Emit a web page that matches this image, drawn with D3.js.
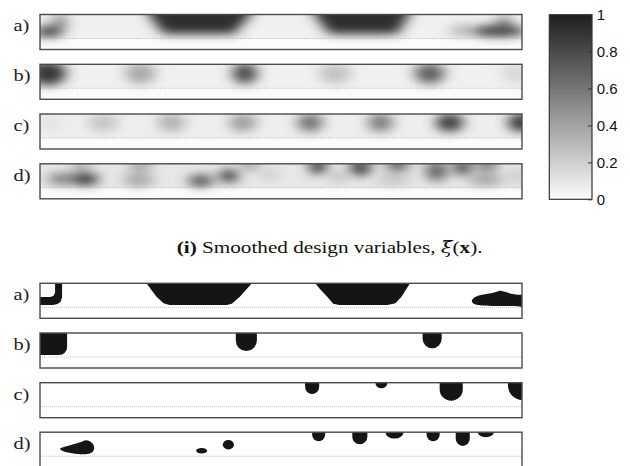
<!DOCTYPE html>
<html><head><meta charset="utf-8">
<script src="https://cdn.jsdelivr.net/npm/d3@7"></script>
<style>body{margin:0;background:#fff}svg{display:block}</style>
</head><body>
<script>
// ---------------- DATA ----------------
const panelLabels = ["a)", "b)", "c)", "d)"];
const colorbarTicks = [0, 0.2, 0.4, 0.6, 0.8, 1];
const colorbarTickLabels = ["0", "0.2", "0.4", "0.6", "0.8", "1"];
const topBackground = [0.05, 0.05, 0.06, 0.09];   // design-region value per panel

// Smoothed design variables: blobs [cx, cy, rx, ry, value] in element units (48 x 3.5)
const smoothA = [
  [0.9, 1.7, 1.4, 0.55, 0.88], [2.0, 0.8, 0.7, 0.9, 0.52],
  [42.0, 1.6, 1.2, 0.55, 0.33], [45.6, 1.65, 2.8, 0.55, 0.9], [46.2, 0.75, 0.8, 0.55, 0.58]
];
const smoothAPolys = [
  [0.93, [[10.8,-1],[21.0,-1],[21.0,0],[19.3,1.95],[12.3,1.95],[10.8,0]]],
  [0.93, [[27.3,-1],[36.8,-1],[36.8,0],[35.6,1.95],[28.8,1.95],[27.3,0]]]
];
const smoothB = [
  [0.8, 0.9, 1.8, 1.2, 0.9], [10.0, 0.9, 1.5, 1.05, 0.38], [20.4, 0.9, 1.25, 1.05, 0.8],
  [29.4, 0.9, 1.6, 1.05, 0.26], [38.8, 0.9, 1.5, 1.05, 0.7], [47.4, 0.9, 1.4, 1.05, 0.16]
];
const smoothC = [
  [1.0, 0.85, 1.3, 0.95, 0.1], [6.3, 0.85, 1.45, 0.95, 0.25], [13.1, 0.85, 1.35, 0.95, 0.34],
  [20.2, 0.85, 1.35, 0.95, 0.42], [26.9, 0.85, 1.25, 0.95, 0.63], [33.9, 0.85, 1.25, 0.95, 0.58],
  [40.8, 0.85, 1.35, 0.95, 0.87], [47.9, 0.85, 1.3, 0.95, 0.9]
];
const smoothD = [
  [4.5, 1.5, 1.3, 0.65, 0.92], [2.2, 1.5, 1.4, 0.55, 0.6], [4.1, 0.25, 0.9, 0.5, 0.4],
  [9.8, 1.6, 1.5, 0.65, 0.4], [10.0, 0.15, 1.1, 0.55, 0.45], [16.0, 1.7, 1.2, 0.6, 0.82],
  [18.8, 1.2, 0.95, 0.65, 0.9], [20.9, 0.15, 0.8, 0.55, 0.48], [22.9, 1.0, 0.8, 0.55, 0.23],
  [27.7, 0.25, 0.9, 0.8, 0.88], [29.7, 1.3, 0.9, 0.55, 0.28], [31.9, 0.4, 1.1, 0.85, 0.84],
  [35.6, 0.15, 1.1, 0.65, 0.74], [35.2, 1.6, 1.7, 0.45, 0.28], [39.5, 0.7, 1.1, 1.05, 0.68],
  [42.1, 0.35, 0.8, 0.85, 0.84], [44.5, 0.15, 1.1, 0.6, 0.63], [44.4, 1.6, 1.7, 0.5, 0.45],
  [47.5, 1.2, 0.9, 0.85, 0.21]
];
const smoothEllipses = [smoothA, smoothB, smoothC, smoothD];
const smoothPolys = [smoothAPolys, [], [], []];

// Thresholded designs
const solidAPolys = [
  [[-0.5,1.36],[1.05,1.36],[1.35,1.25],[1.5,0.95],[1.5,-0.5],[2.2,-0.5],[2.2,1.4],[2.05,1.85],[1.75,2.08],[1.3,2.17],[-0.5,2.17]],
  [[10.6,-0.5],[10.6,0],[11.6,1.34],[12.3,2.0],[12.9,2.17],[18.6,2.17],[19.1,2.05],[19.9,1.34],[21.1,0],[21.1,-0.5]],
  [[27.4,-0.5],[27.4,0],[27.9,0.6],[28.6,1.34],[29.2,2.05],[29.8,2.17],[34.6,2.17],[35.4,2.0],[36.0,1.34],[36.85,0],[36.85,-0.5]]
];
const solidABlobs = [
  [[43.0,1.75],[43.3,1.4],[44.0,1.15],[44.8,1.02],[45.4,0.88],[45.8,0.74],[46.3,0.85],[46.9,1.05],
   [47.6,1.15],[49,1.17],[49,2.27],[47,2.28],[45,2.26],[43.8,2.2],[43.2,2.05]]
];
// drops hanging from the top edge: [x0, x1, depth, cornerRadius?]
const solidBDrops = [[-1.0, 2.7, 2.2, 0.8], [19.5, 21.6, 1.8], [38.1, 40.0, 1.53]];
const solidCDrops = [[26.4, 27.8, 1.13], [33.4, 34.6, 0.56], [39.8, 42.1, 1.8], [46.6, 49.5, 1.73]];
const solidDDrops = [[27.1, 28.4, 0.9], [31.1, 32.6, 1.2], [34.4, 36.2, 0.63],
                     [38.5, 39.8, 0.9], [41.4, 42.8, 1.37], [43.6, 45.2, 0.5]];
const solidDEllipses = [[16.1, 1.85, 0.55, 0.28], [18.76, 1.26, 0.56, 0.47]];
const solidDBlobs = [
  [[2.0,1.65],[3.0,1.3],[4.0,1.0],[4.6,0.8],[5.1,1.0],[5.4,1.5],[5.2,2.0],[4.5,2.2],[3.2,2.1],[2.2,1.85]]
];

// ---------------- LAYOUT ----------------
const W = 630, H = 466;
const topY = [14.5, 64.3, 114, 163.8];
const botY = [283.3, 333, 382.7, 432.2];
const panelH = 35;
const x = d3.scaleLinear().domain([0, 48]).range([40, 522]);
const gray = d3.scaleLinear().domain([0, 1]).range(["#fbfbfb", "#1e1e1e"]);
const dottedAt = 2.4;
const serif = "'Liberation Serif', 'Times New Roman', Times, serif";

const svg = d3.select("body").append("svg").attr("width", W).attr("height", H);
const defs = svg.append("defs");
defs.append("filter").attr("id", "blur")
  .attr("filterUnits", "userSpaceOnUse").attr("x", 0).attr("y", 0).attr("width", W).attr("height", H)
  .append("feGaussianBlur").attr("stdDeviation", "7 4.8");

function panelFrame(g, y, i, idPrefix) {
  defs.append("clipPath").attr("id", idPrefix + i)
    .append("rect").attr("x", x(0)).attr("y", y(0)).attr("width", x(48) - x(0)).attr("height", y(3.5) - y(0));
  return g.append("g").attr("clip-path", `url(#${idPrefix + i})`);
}
function decorate(g, y, i) {
  g.append("line").attr("x1", x(0)).attr("x2", x(48)).attr("y1", y(dottedAt)).attr("y2", y(dottedAt))
    .attr("stroke", "#b4b4b4").attr("stroke-width", 0.8).attr("stroke-dasharray", "1,1");
  g.append("rect").attr("x", x(0)).attr("y", y(0)).attr("width", x(48) - x(0)).attr("height", y(3.5) - y(0))
    .attr("fill", "none").attr("stroke", "#4a4a4a").attr("stroke-width", 1.4);
  g.append("text").text(panelLabels[i])
    .attr("transform", `translate(13.5,${y(0) + 16.8}) scale(1.2,1)`)
    .style("font-family", serif).attr("font-size", 17).attr("fill", "#222");
}

// ---------------- TOP (smoothed) ----------------
topY.forEach((y0, i) => {
  const y = d3.scaleLinear().domain([0, 3.5]).range([y0, y0 + panelH]);
  const g = svg.append("g");
  const c = panelFrame(g, y, i, "clipT");
  c.append("rect").attr("x", x(0)).attr("y", y(0)).attr("width", x(48) - x(0)).attr("height", y(3.5) - y(0))
    .attr("fill", gray(0));
  c.append("rect").attr("x", x(0)).attr("y", y(0)).attr("width", x(48) - x(0)).attr("height", y(dottedAt) - y(0))
    .attr("fill", gray(topBackground[i]));
  const b = c.append("g").attr("filter", "url(#blur)");
  const line = d3.line().x(d => x(d[0])).y(d => y(d[1])).curve(d3.curveLinearClosed);
  b.selectAll("path").data(smoothPolys[i]).join("path")
    .attr("d", d => line(d[1])).attr("fill", d => gray(d[0]));
  b.selectAll("ellipse").data(d3.sort(smoothEllipses[i], d => d[4])).join("ellipse")
    .attr("cx", d => x(d[0])).attr("cy", d => y(d[1]))
    .attr("rx", d => x(d[2]) - x(0)).attr("ry", d => y(d[3]) - y(0))
    .attr("fill", d => gray(d[4]));
  decorate(g, y, i);
});

// ---------------- COLORBAR ----------------
const cb = { x0: 549.3, x1: 592, y0: 14.7, y1: 199.3 };
const cbY = d3.scaleLinear().domain([0, 1]).range([cb.y1, cb.y0]);
const grad = defs.append("linearGradient").attr("id", "cbgrad").attr("x1", 0).attr("x2", 0).attr("y1", 1).attr("y2", 0);
grad.selectAll("stop").data(d3.range(0, 1.0001, 0.1)).join("stop")
  .attr("offset", d => d).attr("stop-color", d => gray(d));
svg.append("rect").attr("x", cb.x0).attr("y", cb.y0).attr("width", cb.x1 - cb.x0).attr("height", cb.y1 - cb.y0)
  .attr("fill", "url(#cbgrad)").attr("stroke", "#333").attr("stroke-width", 1.2);
const cbAxis = d3.axisRight(cbY).tickValues(colorbarTicks).tickSize(-4).tickPadding(8)
  .tickFormat((d, k) => colorbarTickLabels[k]);
const cbg = svg.append("g").attr("transform", `translate(${cb.x1},0)`).call(cbAxis);
cbg.select(".domain").remove();
cbg.selectAll(".tick line").attr("stroke", "#333");
cbg.selectAll(".tick text").style("font-family", "'Liberation Sans', Arial, sans-serif").attr("font-size", 15)
  .attr("fill", "#111").attr("x", 4.7);

// ---------------- CAPTION ----------------
const capG = svg.append("g");
const cap = capG.append("text").attr("x", 0).attr("y", 0)
  .style("font-family", serif).attr("font-size", 16).attr("fill", "#111");
const capParts = [["(i)", "bold", "normal", serif], [" Smoothed design variables, ", "normal", "normal", serif],
                  ["ξ\u0303", "normal", "italic", "'DejaVu Serif', serif"], ["(", "normal", "normal", serif],
                  ["x", "bold", "normal", serif], [").", "normal", "normal", serif]];
cap.selectAll("tspan").data(capParts).join("tspan")
  .attr("font-weight", d => d[1]).attr("font-style", d => d[2]).style("font-family", d => d[3]).text(d => d[0]);
const capLen = cap.node().getComputedTextLength();
capG.attr("transform", `translate(176.7,252.5) scale(${306 / capLen},1)`);

// ---------------- BOTTOM (thresholded) ----------------
const solidPolys = [solidAPolys, [], [], []];
const solidBlobs = [solidABlobs, [], [], solidDBlobs];
const solidDrops = [[], solidBDrops, solidCDrops, solidDDrops];
const solidEllipses = [[], [], [], solidDEllipses];
const ink = "#151515";
botY.forEach((y0, i) => {
  const y = d3.scaleLinear().domain([0, 3.5]).range([y0, y0 + panelH]);
  const g = svg.append("g");
  const c = panelFrame(g, y, i, "clipB");
  c.append("rect").attr("x", x(0)).attr("y", y(0)).attr("width", x(48) - x(0)).attr("height", y(3.5) - y(0))
    .attr("fill", "#fff");
  const lin = d3.line().x(d => x(d[0])).y(d => y(d[1])).curve(d3.curveLinearClosed);
  const smooth = d3.line().x(d => x(d[0])).y(d => y(d[1])).curve(d3.curveCatmullRomClosed.alpha(0.5));
  c.selectAll("path.poly").data(solidPolys[i]).join("path").attr("class", "poly")
    .attr("d", lin).attr("fill", ink);
  c.selectAll("path.blob").data(solidBlobs[i]).join("path").attr("class", "blob")
    .attr("d", smooth).attr("fill", ink);
  c.selectAll("rect.drop").data(solidDrops[i]).join("rect").attr("class", "drop")
    .attr("x", d => x(d[0])).attr("y", y(-2))
    .attr("width", d => x(d[1]) - x(d[0]))
    .attr("height", d => y(d[2]) - y(-2))
    .attr("rx", d => d[3] !== undefined ? x(d[3]) - x(0) : (x(d[1]) - x(d[0])) / 2)
    .attr("ry", d => d[3] !== undefined ? y(d[3]) - y(0) : Math.min((x(d[1]) - x(d[0])) / 2, y(d[2]) - y(0)))
    .attr("fill", ink);
  c.selectAll("ellipse").data(solidEllipses[i]).join("ellipse")
    .attr("cx", d => x(d[0])).attr("cy", d => y(d[1]))
    .attr("rx", d => x(d[2]) - x(0)).attr("ry", d => y(d[3]) - y(0)).attr("fill", ink);
  decorate(g, y, i);
});
</script>
</body></html>
